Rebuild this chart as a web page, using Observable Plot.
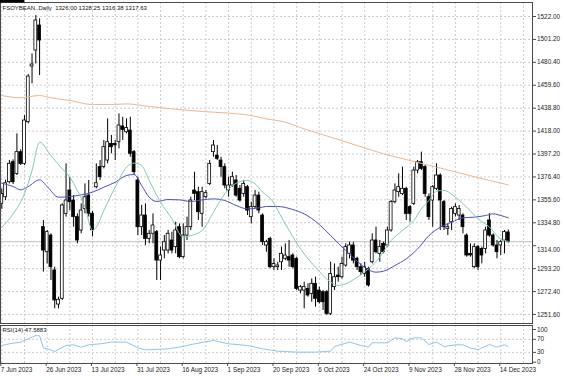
<!DOCTYPE html>
<html><head><meta charset="utf-8">
<script src="https://cdn.jsdelivr.net/npm/d3@7"></script>
<script src="https://cdn.jsdelivr.net/npm/@observablehq/plot@0.6"></script>
<style>
html,body{margin:0;padding:0;background:#fff;}
#chart{position:relative;width:564px;height:376px;overflow:hidden;background:#fff;}
#chart svg{display:block;overflow:visible;}
</style></head><body><div id="chart"></div>
<script>
// ---------- data ----------
const symbol = "FSOYBEAN..Daily";
const opens = [1352.0,1358.0,1371.6,1389.8,1379.2,1398.9,1388.3,1426.1,1476.6,1491.1,1513.8,1330.8,1308.1,1323.2,1291.5,1260.6,1265.8,1342.9,1364.1,1355.0,
1339.9,1327.8,1347.4,1359.5,1343.0,1367.1,1385.3,1385.3,1391.3,1406.4,1406.4,1407.9,1422.2,1417.0,1418.5,1398.9,1373.2,1330.8,1341.4,1320.2,
1324.8,1326.3,1300.5,1309.6,1309.6,1318.7,1312.7,1330.8,1303.6,1323.2,1330.8,1364.1,1362.6,1342.9,1358.0,1370.1,1398.9,1395.8,1391.3,1385.3,
1364.1,1368.6,1373.2,1365.6,1361.0,1367.1,1339.9,1349.0,1359.5,1341.4,1314.2,1320.2,1294.5,1294.5,1299.0,1302.1,1303.6,1305.1,1302.1,1273.3,
1273.3,1274.8,1270.3,1279.4,1273.3,1271.8,1271.8,1252.2,1276.4,1286.9,1285.4,1296.0,1306.6,1314.2,1302.1,1294.5,1288.4,1293.0,1299.0,1318.7,
1306.6,1315.7,1314.2,1327.8,1353.5,1362.6,1361.0,1365.6,1349.0,1352.0,1382.2,1389.8,1385.3,1358.0,1355.0,1365.6,1377.7,1353.5,1329.3,1335.3,
1342.9,1341.4,1341.4,1323.2,1306.6,1294.5,1312.7,1311.1,1311.1,1336.9,1323.2,1314.2,1314.2,1318.7,1326.00];
const highs = [1365.6,1373.5,1391.3,1391.9,1415.5,1401.0,1432.1,1469.3,1488.1,1522.9,1519.9,1336.9,1327.8,1324.8,1294.5,1267.3,1352.0,1388.3,1376.2,1359.5,
1342.9,1352.0,1370.1,1373.2,1345.0,1388.3,1391.3,1409.5,1429.1,1414.0,1409.5,1433.6,1430.6,1429.1,1430.6,1400.4,1376.2,1350.5,1352.0,1327.8,
1342.9,1327.8,1312.7,1323.2,1327.8,1326.3,1335.3,1333.8,1333.8,1339.9,1358.0,1380.7,1367.1,1367.1,1364.1,1391.3,1409.5,1404.9,1394.3,1388.3,
1376.2,1380.7,1377.7,1368.6,1373.2,1368.6,1353.5,1364.1,1362.6,1342.9,1319.0,1321.7,1302.1,1299.0,1312.7,1315.7,1318.7,1306.6,1303.6,1277.9,
1280.9,1279.4,1283.9,1285.4,1276.4,1273.3,1273.3,1299.0,1297.5,1294.5,1303.6,1315.7,1317.2,1317.2,1303.6,1297.5,1299.0,1294.5,1324.8,1330.8,
1318.7,1317.2,1330.8,1355.0,1370.1,1379.2,1385.3,1367.1,1350.5,1385.3,1391.3,1398.9,1386.8,1361.0,1368.6,1388.3,1379.2,1355.0,1333.8,1349.0,
1352.0,1350.5,1342.9,1324.8,1315.7,1315.7,1314.2,1312.7,1330.8,1342.9,1324.8,1318.7,1318.7,1327.8,1328.25];
const lows = [1347.0,1355.0,1370.1,1369.5,1377.7,1386.8,1386.8,1424.6,1460.9,1479.0,1468.4,1290.0,1297.5,1282.4,1256.7,1256.7,1264.3,1339.9,1345.9,1330.8,
1315.7,1324.8,1342.9,1340.0,1322.0,1365.6,1373.2,1383.7,1388.3,1397.4,1391.3,1401.9,1409.5,1415.5,1394.3,1377.7,1323.2,1323.2,1314.2,1315.7,
1315.7,1282.4,1282.4,1302.1,1306.6,1306.6,1306.6,1302.1,1302.1,1318.7,1327.8,1355.0,1336.9,1330.8,1356.5,1368.6,1394.3,1391.3,1376.2,1365.6,
1358.0,1367.1,1358.0,1353.5,1358.0,1341.4,1333.8,1347.4,1343.0,1314.2,1308.1,1293.0,1291.5,1291.5,1291.5,1300.5,1294.5,1293.0,1273.3,1270.3,
1256.7,1267.3,1262.7,1258.2,1261.2,1255.2,1250.6,1250.6,1273.3,1280.9,1283.9,1294.5,1302.1,1297.5,1291.5,1286.9,1285.4,1276.4,1297.5,1306.6,
1299.0,1306.6,1312.7,1326.3,1352.0,1358.0,1359.5,1336.9,1335.3,1350.5,1379.2,1382.2,1358.0,1336.9,1330.8,1364.1,1327.8,1327.8,1323.2,1327.8,
1340.0,1336.9,1324.8,1303.6,1303.6,1293.0,1291.5,1297.5,1306.6,1321.7,1312.7,1302.1,1305.1,1306.6,1316.38];
const closes = [1361.0,1370.7,1388.3,1371.6,1398.9,1388.3,1427.6,1467.5,1478.4,1518.4,1500.2,1309.6,1326.3,1294.5,1264.3,1264.9,1350.5,1355.0,1353.5,1339.9,
1318.7,1345.9,1358.0,1343.0,1328.0,1370.7,1376.2,1403.4,1407.9,1403.4,1405.0,1423.1,1419.1,1420.9,1397.4,1380.7,1330.8,1341.4,1320.2,1324.8,
1332.3,1300.5,1305.1,1317.2,1324.8,1309.6,1327.8,1303.6,1323.2,1330.8,1355.0,1361.0,1344.4,1362.6,1361.7,1388.3,1404.9,1392.8,1385.3,1368.6,
1368.6,1376.2,1359.5,1355.0,1370.1,1345.9,1349.0,1359.5,1345.9,1317.2,1317.2,1294.5,1297.5,1296.0,1306.6,1305.1,1300.5,1294.5,1274.8,1276.4,
1276.4,1268.8,1279.4,1265.8,1262.7,1262.7,1252.2,1288.4,1285.4,1285.4,1297.5,1312.7,1314.2,1300.5,1294.5,1290.0,1294.5,1277.9,1318.7,1308.1,
1312.7,1308.1,1327.8,1353.5,1364.1,1367.1,1365.6,1342.9,1342.9,1382.2,1389.8,1383.7,1361.0,1339.9,1367.1,1377.7,1355.0,1330.8,1330.8,1347.4,
1349.0,1347.4,1330.8,1305.1,1305.1,1312.7,1294.5,1305.1,1327.8,1323.2,1314.2,1308.1,1317.2,1326.3,1317.63];

// moving averages: [bar, value]
const maFast = [[0,1330.8],[3,1342.9],[6,1361.1],[8,1382.2],[10,1407.9],[13,1395.8],[16,1383.7],[18,1376.2],[20,1364.1],[22,1349.0],[24,1327.8],[25,1330.8],[27,1345.9],[30,1367.1],[33,1385.3],[35,1388.9],[37,1386.8],[39,1373.2],[42,1353.5],[45,1338.4],[48,1321.7],[50,1323.2],[53,1327.8],[56,1344.4],[59,1361.1],[62,1370.7],[65,1373.2],[67,1370.1],[69,1362.6],[71,1357.0],[75,1333.8],[79,1311.2],[83,1294.5],[87,1280.9],[89,1277.9],[91,1279.4],[94,1285.4],[97,1293.0],[100,1303.6],[103,1318.7],[106,1327.8],[109,1336.9],[111,1347.4],[113,1355.0],[115,1363.5],[117,1364.1],[120,1358.0],[123,1349.0],[126,1338.4],[129,1331.0],[132,1320.0],[134,1318.0]];
const maMid = [[0,1370.7],[3,1367.7],[5,1364.7],[7,1367.7],[10,1373.8],[12,1367.7],[15,1358.0],[18,1358.6],[21,1360.1],[24,1362.6],[27,1367.1],[30,1371.6],[33,1377.7],[35,1378.6],[37,1368.6],[39,1358.0],[41,1354.1],[44,1355.9],[47,1355.6],[50,1354.1],[53,1355.6],[56,1356.5],[59,1355.0],[62,1350.5],[65,1347.4],[68,1348.3],[70,1349.6],[73,1349.6],[77,1346.8],[80,1342.9],[84,1333.2],[87,1323.2],[91,1309.6],[94,1300.0],[97,1292.1],[99,1290.0],[101,1290.9],[104,1296.0],[107,1302.1],[110,1311.1],[113,1323.2],[116,1330.8],[119,1335.3],[122,1339.3],[125,1339.9],[128,1341.4],[130,1342.9],[132,1341.4],[134,1339.3]];
const maSlow = [[0,1450.3],[5,1448.2],[10,1450.3],[13,1448.2],[18,1445.8],[24,1442.1],[29,1442.1],[33,1442.7],[39,1440.3],[45,1438.2],[53,1435.8],[60,1434.3],[66,1432.1],[70,1429.1],[75,1426.1],[80,1420.0],[87,1412.5],[94,1404.9],[101,1397.4],[108,1391.3],[115,1385.3],[122,1379.2],[129,1373.2],[134,1369.2]];

// RSI(14): [bar, value]
const rsiName = "RSI(14)";
const rsiLast = 47.5883;
const rsiPts = [[0,51.1],[2,56.2],[5,61.4],[7,71.6],[9,81.7],[10,80.6],[11,43.9],[12,40.9],[14,32.7],[17,51.1],[19,53.1],[21,46.0],[23,53.1],[26,56.2],[29,61.4],[33,61.4],[36,43.9],[38,37.8],[44,40.9],[47,46.0],[51,56.2],[56,66.4],[60,56.2],[65,51.1],[69,40.9],[73,33.8],[78,30.7],[83,30.7],[87,33.8],[88,48.0],[92,61.4],[95,51.1],[97,46.0],[98,59.4],[102,59.4],[104,74.5],[106,71.6],[107,63.5],[109,74.5],[111,74.5],[113,54.1],[115,61.4],[117,48.0],[120,53.1],[122,53.1],[124,42.9],[126,38.8],[127,43.9],[129,54.1],[131,46.0],[132,50.1],[133,53.1],[134,47.5883]];

// tick labels
const priceTicks = [1522.00,1501.20,1480.40,1459.60,1438.80,1418.00,1397.20,1376.40,1355.60,1334.80,1314.00,1293.20,1272.40,1251.60];
const rsiTicks = [100,70,30,0];
const rsiLevels = [70,30];
const dateBars = [0,12,24,36,48,60,72,84,96,108,120,132];
const dateLabels = ["7 Jun 2023","26 Jun 2023","13 Jul 2023","31 Jul 2023","16 Aug 2023","1 Sep 2023","20 Sep 2023","6 Oct 2023","24 Oct 2023","9 Nov 2023","28 Nov 2023","14 Dec 2023"];
const gridBars = [0,6,12,18,24,30,36,42,48,54,60,66,72,78,84,90,96,102,108,114,120,126,132,138];

// ---------- build ----------
const candles = opens.map((o, i) => ({i, o, h: highs[i], l: lows[i], c: closes[i]}));
const last = candles[candles.length - 1];
const header = `${symbol}  ${last.o.toFixed(2)} ${last.h.toFixed(2)} ${last.l.toFixed(2)} ${last.c.toFixed(2)}`;
const xDomain = [-0.344, 140.4];
const FONT = "Liberation Sans, Arial, sans-serif";
const gridColor = "#cdcdcd";
const frameColor = "#4a4a4a";
// axis labels that would sit under the current-price box are nudged down
const nearBox = priceTicks.filter(t => Math.abs(t - last.c) < 6);
const freeTicks = priceTicks.filter(t => !nearBox.includes(t));

const main = Plot.plot({
  width: 564, height: 325,
  marginLeft: 0, marginRight: 32, marginTop: 2, marginBottom: 2,
  x: {domain: xDomain, axis: null},
  y: {domain: [1243.4, 1534.7], axis: null},
  style: {fontFamily: FONT, fontSize: "6.4px", background: "white", color: "#111"},
  marks: [
    Plot.ruleY(priceTicks, {stroke: gridColor, strokeDasharray: "2,2"}),
    Plot.ruleX(gridBars, {stroke: gridColor, strokeDasharray: "2,2"}),
    Plot.ruleY([last.c], {stroke: "#bdbdbd"}),
    Plot.ruleX(candles, {x: "i", y1: "l", y2: "h", stroke: "#000", strokeWidth: 1}),
    Plot.rect(candles, {x1: d => d.i - 0.38, x2: d => d.i + 0.38, y1: "o", y2: "c",
      fill: d => d.c >= d.o ? "#fff" : "#000", stroke: "#000", strokeWidth: 0.8}),
    Plot.line(maSlow, {x: d => d[0], y: d => d[1], stroke: "#ebb78f", strokeWidth: 1, curve: "monotone-x"}),
    Plot.line(maMid, {x: d => d[0], y: d => d[1], stroke: "#4d4dbf", strokeWidth: 1, curve: "monotone-x"}),
    Plot.line(maFast, {x: d => d[0], y: d => d[1], stroke: "#86c9ad", strokeWidth: 1, curve: "monotone-x"}),
    Plot.frame({stroke: frameColor}),
    Plot.axisY(priceTicks, {anchor: "right", tickSize: 3, stroke: frameColor, text: null}),
    Plot.axisY(freeTicks, {anchor: "right", tickSize: 3, tickPadding: 1.5, stroke: null, tickFormat: d => d.toFixed(2), fill: "#222"}),
    Plot.axisY(nearBox, {anchor: "right", tickSize: 3, tickPadding: 1.5, stroke: null, dy: 4, tickFormat: d => d.toFixed(2), fill: "#222"}),
    Plot.text([header], {frameAnchor: "top-left", dx: 2, dy: 3, lineAnchor: "top", textAnchor: "start", fill: "#111", fontSize: 6}),
    Plot.text([last.c], {y: d => d, frameAnchor: "right", dx: 3, dy: -0.5, textAnchor: "start", fill: "white", fontSize: 6.2, text: d => d.toFixed(2)})
  ]
});

const rsi = Plot.plot({
  width: 564, height: 51,
  marginLeft: 0, marginRight: 32, marginTop: 0, marginBottom: 13,
  x: {domain: xDomain, axis: null},
  y: {domain: [-4, 112.2], axis: null},
  style: {fontFamily: FONT, fontSize: "6.4px", background: "white", color: "#111"},
  marks: [
    Plot.ruleY(rsiLevels, {stroke: gridColor, strokeDasharray: "2,2"}),
    Plot.ruleX(gridBars, {stroke: gridColor, strokeDasharray: "2,2"}),
    Plot.line(rsiPts, {x: d => d[0], y: d => d[1], stroke: "#8ec5ea", strokeWidth: 1}),
    Plot.frame({stroke: frameColor}),
    Plot.axisY(rsiTicks, {anchor: "right", tickSize: 3, tickPadding: 1.5, stroke: frameColor, fill: "#222"}),
    Plot.axisX(dateBars, {anchor: "bottom", tickSize: 3, tickPadding: 1, stroke: frameColor, fill: "#222",
      textAnchor: "start", dx: -1, tickFormat: d => dateLabels[dateBars.indexOf(d)]}),
    Plot.text([`${rsiName} ${rsiLast.toFixed(4)}`], {frameAnchor: "top-left", dx: 2, dy: 2, lineAnchor: "top", textAnchor: "start", fill: "#111", fontSize: 6})
  ]
});

const host = document.getElementById("chart");
host.append(main, rsi);

// black box behind the current-price label
d3.select(main).selectAll("g").filter(function() { return this.getAttribute("fill") === "white"; })
  .each(function() {
    const t = this.querySelector("text");
    if (!t) return;
    const b = t.getBBox();
    const r = document.createElementNS("http://www.w3.org/2000/svg", "rect");
    r.setAttribute("x", b.x - 1.5); r.setAttribute("y", b.y + 0.5);
    r.setAttribute("width", b.width + 3); r.setAttribute("height", b.height - 1);
    r.setAttribute("fill", "#000");
    this.parentNode.insertBefore(r, this);
  });
</script></body></html>
